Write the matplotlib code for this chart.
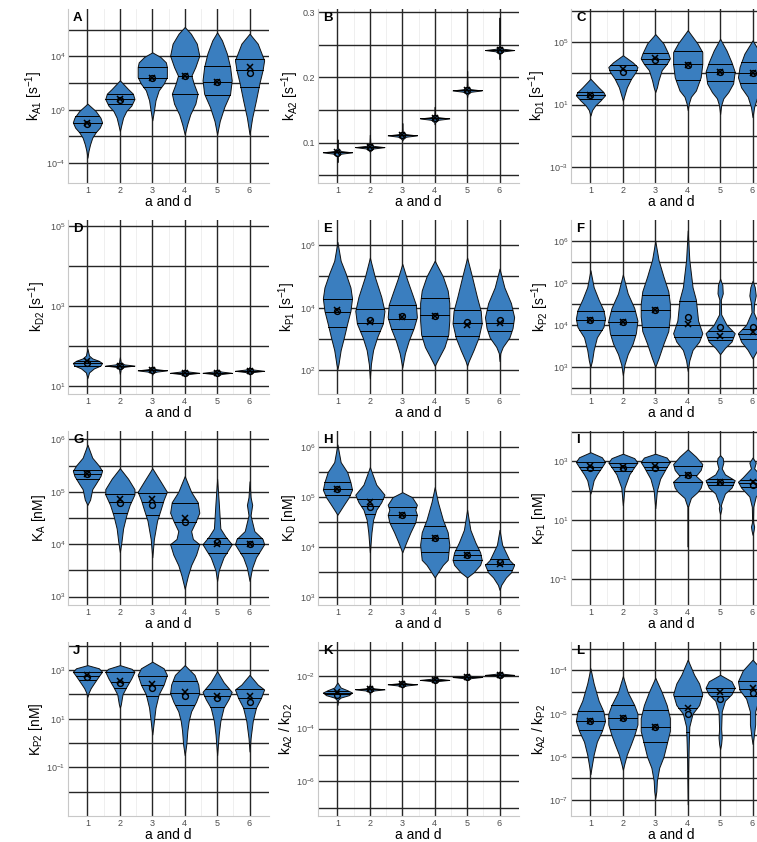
import matplotlib.pyplot as plt
import numpy as np
from matplotlib.ticker import FixedLocator, FixedFormatter

plt.rcParams["font.family"] = ["Liberation Sans", "DejaVu Sans"]
plt.rcParams["mathtext.fontset"] = "custom"
plt.rcParams["mathtext.rm"] = "Liberation Sans"
plt.rcParams["mathtext.it"] = "Liberation Sans:italic"

GROUPS = [1, 2, 3, 4, 5, 6]
VIOLIN_BLUE = "#3a7ebf"

# Violin profiles: (log10 value, relative half-width) from bottom tip to top tip.
# Quartiles are [q1, median, q3]; "mean" drawn as x, "mode" drawn as o.

# A: kA1
A_shapes = [
    [(-3.6, 0), (-3.1, .07), (-2.6, .18), (-2.1, .33), (-1.7, .56), (-1.35, .84), (-.95, 1), (-.6, .89), (-.1, .56), (.45, 0)],
    [(-1.6, 0), (-1.1, .11), (-.6, .22), (-.1, .44), (.3, .78), (.8, 1), (1.2, .89), (1.55, .56), (2.2, 0)],
    [(-.8, 0), (-.1, .11), (.7, .22), (1.45, .44), (1.95, .78), (2.45, 1), (3.2, 1), (3.55, .93), (3.95, .56), (4.3, 0)],
    [(-1.85, 0), (-1.1, .17), (-.35, .38), (.45, .73), (1.2, .88), (1.95, .62), (2.55, .46), (3.2, .73), (4.05, 1), (4.95, .83), (5.7, .42), (6.2, 0)],
    [(-1.85, 0), (-.85, .18), (.2, .49), (1.2, .89), (2.2, 1), (3.2, .89), (4.2, .67), (5.2, .33), (5.8, 0)],
    [(-1.85, 0), (-.6, .18), (.7, .44), (1.95, .67), (2.95, .89), (3.7, 1), (4.95, .56), (5.7, 0)],
]
A_quartiles = [[-1.7, -1.0, -.5], [.4, .8, 1.2], [1.7, 2.4, 3.2], [1.2, 2.5, 4.0], [1.1, 2.05, 3.3], [1.7, 3.0, 3.8]]
A_mean = [-1.0, .8, 2.4, 2.5, 2.1, 3.2]
A_mode = [-1.05, .7, 2.35, 2.5, 2.05, 2.75]

# B: kA2 (linear scale)
B_shapes = [
    [(.070, 0), (.079, .03), (.083, .25), (.085, 1), (.087, .25), (.091, .03), (.105, 0)],
    [(.086, 0), (.087, .03), (.091, .25), (.093, 1), (.095, .25), (.099, .03), (.112, 0)],
    [(.103, 0), (.105, .03), (.109, .25), (.111, 1), (.113, .25), (.117, .03), (.130, 0)],
    [(.128, 0), (.131, .03), (.135, .25), (.137, 1), (.139, .25), (.143, .03), (.155, 0)],
    [(.170, 0), (.174, .03), (.178, .25), (.180, 1), (.182, .25), (.186, .03), (.210, 0)],
    [(.228, 0), (.236, .03), (.240, .25), (.242, 1), (.244, .25), (.248, .03), (.292, 0)],
]
B_quartiles = [[.085] * 3, [.093] * 3, [.111] * 3, [.137] * 3, [.180] * 3, [.242] * 3]
B_mean = [.085, .093, .111, .137, .180, .242]
B_mode = [.084, .093, .111, .137, .180, .242]

# C: kD1
C_shapes = [
    [(.3, 0), (.65, .11), (.95, .33), (1.25, .67), (1.6, 1), (1.8, .89), (2.1, .56), (2.65, 0)],
    [(1.25, 0), (1.6, .11), (2.1, .27), (2.65, .56), (3.1, .89), (3.4, 1), (3.7, .67), (4.15, 0)],
    [(1.8, 0), (2.1, .11), (2.55, .22), (3.2, .44), (3.6, .78), (3.95, 1), (4.25, .89), (4.9, .56), (5.5, 0)],
    [(.65, 0), (1.05, .07), (1.5, .22), (1.9, .56), (2.75, .89), (3.6, 1), (4.35, 1), (4.9, .67), (5.75, 0)],
    [(.4, 0), (.95, .07), (1.4, .22), (1.8, .56), (2.35, .89), (3.1, 1), (3.7, .78), (4.45, .44), (5.2, 0)],
    [(.2, 0), (.85, .11), (1.5, .33), (2.1, .78), (2.75, 1), (3.4, .89), (4.25, .56), (5.1, 0)],
]
C_quartiles = [[1.33, 1.6, 1.8], [2.65, 3.23, 3.5], [3.6, 3.9, 4.3], [2.6, 3.6, 4.4], [2.5, 3.1, 3.6], [2.4, 3.0, 3.7]]
C_mean = [1.6, 3.25, 4.0, 3.55, 3.1, 3.0]
C_mode = [1.6, 3.1, 3.85, 3.55, 3.1, 3.0]

# D: kD2
D_shapes = [
    [(1.2, 0), (1.34, .11), (1.44, .44), (1.51, .89), (1.575, 1), (1.63, .78), (1.69, .33), (1.76, .11), (1.93, 0)],
    [(1.3, 0), (1.43, .06), (1.48, .3), (1.51, 1), (1.54, .3), (1.59, .06), (1.72, 0)],
    [(1.28, 0), (1.33, .06), (1.36, .3), (1.39, 1), (1.42, .3), (1.45, .06), (1.5, 0)],
    [(1.24, 0), (1.27, .06), (1.3, .3), (1.33, 1), (1.36, .3), (1.39, .06), (1.42, 0)],
    [(1.24, 0), (1.27, .06), (1.3, .3), (1.33, 1), (1.36, .3), (1.39, .06), (1.43, 0)],
    [(1.29, 0), (1.32, .06), (1.35, .3), (1.38, 1), (1.41, .3), (1.44, .06), (1.48, 0)],
]
D_quartiles = [[1.51, 1.575, 1.63], [1.51] * 3, [1.39] * 3, [1.33] * 3, [1.33] * 3, [1.38] * 3]
D_mean = [1.63, 1.51, 1.39, 1.33, 1.33, 1.38]
D_mode = [1.575, 1.51, 1.39, 1.33, 1.33, 1.38]

# E: kP1
E_shapes = [
    [(2.05, 0), (2.2, .07), (2.65, .22), (3.05, .44), (3.5, .67), (3.9, .89), (4.3, 1), (4.65, .89), (5.1, .56), (5.5, .22), (6.1, 0)],
    [(1.75, 0), (2.2, .07), (2.65, .22), (3.05, .49), (3.5, .89), (3.9, 1), (4.35, .78), (5.0, .33), (5.6, 0)],
    [(2.1, 0), (2.55, .18), (2.95, .44), (3.35, .78), (3.7, 1), (4.1, .93), (4.45, .67), (4.9, .33), (5.4, 0)],
    [(2.15, 0), (2.45, .33), (2.75, .67), (3.15, .93), (3.6, 1), (4.15, 1), (4.55, .89), (5.0, .56), (5.5, 0)],
    [(2.15, 0), (2.3, .11), (2.65, .44), (3.05, .78), (3.5, 1), (3.9, .93), (4.35, .67), (5.0, .33), (5.6, 0)],
    [(2.3, 0), (2.55, .05), (2.75, .22), (3.05, .67), (3.35, .89), (3.7, 1), (4.15, .78), (4.65, .33), (5.25, 0)],
]
E_quartiles = [[3.4, 3.87, 4.27], [3.26, 3.5, 3.95], [3.33, 3.65, 4.1], [3.1, 3.77, 4.3], [3.1, 3.5, 3.93], [3.25, 3.52, 3.93]]
E_mean = [3.93, 3.56, 3.7, 3.75, 3.45, 3.5]
E_mode = [3.9, 3.62, 3.75, 3.75, 3.55, 3.6]

# F: kP2
F_shapes = [
    [(3.0, 0), (3.15, .11), (3.4, .22), (3.7, .44), (3.95, .89), (4.15, 1), (4.35, .89), (4.6, .56), (4.9, .22), (5.3, 0)],
    [(2.8, 0), (3.05, .11), (3.3, .33), (3.55, .67), (3.8, .89), (4.1, 1), (4.4, .78), (4.75, .33), (5.2, 0)],
    [(3.0, 0), (3.2, .22), (3.55, .56), (3.85, .89), (4.2, 1), (4.5, 1), (4.8, .89), (5.15, .56), (5.55, .22), (6.0, 0)],
    [(2.9, 0), (3.15, .11), (3.4, .33), (3.6, .78), (3.8, 1), (4.1, .71), (4.6, .56), (4.9, .33), (5.55, .11), (6.25, 0)],
    [(3.3, 0), (3.45, .33), (3.6, .78), (3.8, 1), (4.0, .44), (4.25, .07), (4.6, .05), (4.75, .18), (4.95, .15), (5.1, 0)],
    [(3.2, 0), (3.4, .33), (3.6, .78), (3.8, 1), (4.0, .44), (4.3, .07), (4.5, .1), (4.7, .22), (4.9, .15), (5.05, 0)],
]
F_quartiles = [[3.88, 4.12, 4.34], [3.75, 4.06, 4.34], [3.95, 4.35, 4.71], [3.72, 4.0, 4.58], [3.64, 3.72, 3.86], [3.65, 3.78, 3.9]]
F_mean = [4.12, 4.06, 4.35, 4.02, 3.74, 3.82]
F_mode = [4.12, 4.06, 4.35, 4.18, 3.94, 3.94]

# G: KA
G_shapes = [
    [(4.75, 0), (4.85, .18), (5.05, .33), (5.15, .56), (5.3, .89), (5.4, 1), (5.5, .78), (5.65, .33), (5.9, 0)],
    [(3.85, 0), (4.05, .11), (4.3, .22), (4.55, .44), (4.75, .67), (4.95, 1), (5.05, 1), (5.25, .56), (5.45, 0)],
    [(3.75, 0), (4.1, .11), (4.45, .33), (4.65, .56), (4.85, .78), (5.0, 1), (5.2, .56), (5.45, 0)],
    [(3.15, 0), (3.4, .22), (3.6, .44), (3.8, .78), (4.0, 1), (4.1, .56), (4.25, .44), (4.45, .78), (4.6, 1), (4.8, .89), (5.0, .44), (5.3, 0)],
    [(3.3, 0), (3.5, .11), (3.75, .44), (3.9, .78), (4.0, 1), (4.15, .56), (4.3, .22), (4.8, .11), (5.25, 0)],
    [(3.3, 0), (3.55, .18), (3.75, .44), (3.9, .78), (4.0, 1), (4.1, .89), (4.25, .33), (4.55, .07), (4.75, .18), (4.9, .07), (5.2, 0)],
]
G_quartiles = [[5.25, 5.33, 5.41], [4.6, 4.8, 4.95], [4.56, 4.8, 4.97], [4.0, 4.43, 4.78], [3.84, 4.0, 4.11], [3.84, 4.0, 4.11]]
G_mean = [5.33, 4.87, 4.87, 4.5, 4.0, 4.0]
G_mode = [5.33, 4.78, 4.75, 4.42, 4.05, 4.0]

# H: KD
H_shapes = [
    [(4.65, 0), (4.7, .11), (4.85, .44), (5.0, .78), (5.15, 1), (5.3, .89), (5.5, .67), (5.7, .22), (6.05, 0)],
    [(3.9, 0), (4.3, .11), (4.55, .22), (4.75, .44), (4.9, .78), (5.05, 1), (5.25, .44), (5.6, 0)],
    [(3.9, 0), (4.1, .27), (4.3, .56), (4.5, .89), (4.65, 1), (4.75, .89), (4.85, 1), (5.0, .67), (5.1, 0)],
    [(3.4, 0), (3.5, .22), (3.65, .56), (3.75, .89), (4.05, 1), (4.3, .89), (4.55, .56), (4.9, .22), (5.2, 0)],
    [(3.4, 0), (3.5, .44), (3.65, .89), (3.75, 1), (3.9, .89), (4.1, .56), (4.35, .22), (4.75, 0)],
    [(3.15, 0), (3.25, .11), (3.4, .44), (3.5, .78), (3.65, 1), (3.75, .67), (4.05, .18), (4.35, 0)],
]
H_quartiles = [[5.05, 5.17, 5.3], [4.67, 4.82, 4.97], [4.49, 4.64, 4.8], [3.9, 4.18, 4.43], [3.74, 3.85, 3.94], [3.54, 3.66, 3.77]]
H_mean = [5.17, 4.9, 4.64, 4.18, 3.85, 3.66]
H_mode = [5.17, 4.8, 4.64, 4.18, 3.85, 3.7]

# I: KP1
I_shapes = [
    [(1.9, 0), (2.1, .11), (2.35, .22), (2.55, .44), (2.8, .78), (2.97, 1), (3.13, .78), (3.3, 0)],
    [(1.5, 0), (2.1, .11), (2.55, .44), (2.8, .78), (2.95, 1), (3.1, .78), (3.25, 0)],
    [(1.4, 0), (2.0, .11), (2.4, .33), (2.8, .78), (2.97, 1), (3.12, .78), (3.25, 0)],
    [(.1, 0), (1.45, .02), (1.75, .22), (1.95, .67), (2.1, .89), (2.3, 1), (2.5, .56), (2.7, .89), (2.9, 1), (3.15, .56), (3.4, 0)],
    [(1.2, 0), (1.3, .05), (1.4, .09), (1.5, .05), (1.6, .11), (1.9, .33), (2.1, .78), (2.35, 1), (2.55, .33), (2.75, .11), (2.95, .22), (3.1, .18), (3.2, 0)],
    [(.5, 0), (.65, .07), (.78, .11), (.9, .05), (1.0, .03), (1.45, .05), (1.8, .22), (2.1, .78), (2.3, 1), (2.45, .67), (2.75, .11), (2.95, .22), (3.12, 0)],
]
I_quartiles = [[2.7, 2.8, 2.97], [2.67, 2.8, 2.93], [2.7, 2.8, 2.97], [2.3, 2.52, 2.85], [2.18, 2.29, 2.4], [2.12, 2.24, 2.35]]
I_mean = [2.82, 2.8, 2.82, 2.52, 2.29, 2.29]
I_mode = [2.78, 2.75, 2.77, 2.52, 2.29, 2.18]

# J: KP2
J_shapes = [
    [(1.9, 0), (2.05, .07), (2.25, .22), (2.45, .44), (2.75, .78), (2.93, 1), (3.07, .78), (3.2, 0)],
    [(1.45, 0), (1.6, .07), (2.0, .18), (2.3, .44), (2.65, .78), (2.93, 1), (3.05, .8), (3.2, 0)],
    [(.35, 0), (.9, .11), (1.45, .22), (2.0, .44), (2.4, .78), (2.8, 1), (3.07, .78), (3.34, 0)],
    [(-.5, 0), (-.05, .11), (.5, .18), (.9, .27), (1.3, .44), (1.7, .78), (2.05, 1), (2.4, .93), (2.8, .67), (3.2, 0)],
    [(-.5, 0), (.35, .11), (.9, .22), (1.45, .44), (1.8, .78), (2.1, 1), (2.5, .44), (2.95, 0)],
    [(-.35, 0), (.2, .07), (.9, .22), (1.45, .44), (1.85, .78), (2.2, 1), (2.4, .56), (2.8, 0)],
]
J_quartiles = [[2.6, 2.77, 2.93], [2.27, 2.5, 2.93], [1.93, 2.37, 2.76], [1.56, 2.05, 2.56], [1.49, 1.95, 2.23], [1.44, 1.84, 2.23]]
J_mean = [2.8, 2.55, 2.43, 2.08, 1.95, 1.95]
J_mode = [2.7, 2.45, 2.27, 1.95, 1.83, 1.7]

# K: kA2 / kD2
K_shapes = [
    [(-3.1, 0), (-2.9, .05), (-2.82, .22), (-2.73, .78), (-2.63, 1), (-2.54, .67), (-2.44, .22), (-2.25, 0)],
    [(-2.7, 0), (-2.6, .05), (-2.55, .3), (-2.51, 1), (-2.47, .3), (-2.42, .05), (-2.3, 0)],
    [(-2.45, 0), (-2.4, .05), (-2.36, .3), (-2.32, 1), (-2.28, .3), (-2.24, .05), (-2.15, 0)],
    [(-2.28, 0), (-2.23, .05), (-2.19, .3), (-2.15, 1), (-2.11, .3), (-2.07, .05), (-2.0, 0)],
    [(-2.15, 0), (-2.12, .05), (-2.08, .3), (-2.04, 1), (-2.0, .3), (-1.96, .05), (-1.9, 0)],
    [(-2.07, 0), (-2.04, .05), (-2.0, .3), (-1.96, 1), (-1.92, .3), (-1.88, .05), (-1.82, 0)],
]
K_quartiles = [[-2.7, -2.63, -2.56], [-2.51] * 3, [-2.32] * 3, [-2.15] * 3, [-2.04] * 3, [-1.96] * 3]
K_mean = [-2.6, -2.51, -2.32, -2.15, -2.04, -1.96]
K_mode = [-2.73, -2.51, -2.32, -2.15, -2.04, -1.96]

# L: kA2 / kP2
L_shapes = [
    [(-6.4, 0), (-6.25, .07), (-5.95, .22), (-5.65, .44), (-5.4, .78), (-5.17, 1), (-4.95, .89), (-4.7, .56), (-4.3, .22), (-3.95, 0)],
    [(-6.3, 0), (-6.15, .11), (-5.95, .27), (-5.7, .56), (-5.5, .78), (-5.25, 1), (-5.0, 1), (-4.8, .78), (-4.5, .33), (-4.13, 0)],
    [(-6.95, 0), (-6.8, .07), (-6.55, .11), (-6.25, .27), (-6.0, .56), (-5.7, .78), (-5.4, 1), (-5.1, 1), (-4.8, .78), (-4.5, .44), (-4.17, 0)],
    [(-7.1, 0), (-6.1, .04), (-5.7, .07), (-5.3, .11), (-5.0, .33), (-4.8, .78), (-4.55, 1), (-4.3, .78), (-4.1, .44), (-3.75, 0)],
    [(-5.82, 0), (-5.7, .07), (-5.55, .11), (-5.35, .07), (-4.95, .11), (-4.7, .33), (-4.55, .78), (-4.4, 1), (-4.25, .78), (-4.1, 0)],
    [(-5.7, 0), (-5.55, .07), (-5.25, .18), (-4.95, .18), (-4.65, .44), (-4.45, .89), (-4.25, 1), (-4.0, .67), (-3.75, 0)],
]
L_quartiles = [[-5.38, -5.18, -4.94], [-5.36, -5.1, -4.8], [-5.65, -5.3, -4.92], [-5.42, -4.86, -4.58], [-4.6, -4.5, -4.4], [-4.6, -4.43, -4.25]]
L_mean = [-5.17, -5.1, -5.3, -4.86, -4.5, -4.4]
L_mode = [-5.17, -5.1, -5.3, -5.0, -4.65, -4.53]

PANELS = [
    dict(tag="A", ylabel=r"k$_{\mathrm{A1}}$ [s$^{-1}$]", shapes=A_shapes, quart=A_quartiles, mean=A_mean, mode=A_mode,
         log=True, ylim=(-5.5, 7.55), major=[-4, 0, 4], minor=[-2, 2, 6]),
    dict(tag="B", ylabel=r"k$_{\mathrm{A2}}$ [s$^{-1}$]", shapes=B_shapes, quart=B_quartiles, mean=B_mean, mode=B_mode,
         log=False, ylim=(0.038, 0.305), major=[0.1, 0.2, 0.3], minor=[0.05, 0.15, 0.25]),
    dict(tag="C", ylabel=r"k$_{\mathrm{D1}}$ [s$^{-1}$]", shapes=C_shapes, quart=C_quartiles, mean=C_mean, mode=C_mode,
         log=True, ylim=(-4.0, 7.1), major=[-3, 1, 5], minor=[-1, 3, 7]),
    dict(tag="D", ylabel=r"k$_{\mathrm{D2}}$ [s$^{-1}$]", shapes=D_shapes, quart=D_quartiles, mean=D_mean, mode=D_mode,
         log=True, ylim=(0.8, 5.15), major=[1, 3, 5], minor=[2, 4]),
    dict(tag="E", ylabel=r"k$_{\mathrm{P1}}$ [s$^{-1}$]", shapes=E_shapes, quart=E_quartiles, mean=E_mean, mode=E_mode,
         log=True, ylim=(1.25, 6.8), major=[2, 4, 6], minor=[3, 5]),
    dict(tag="F", ylabel=r"k$_{\mathrm{P2}}$ [s$^{-1}$]", shapes=F_shapes, quart=F_quartiles, mean=F_mean, mode=F_mode,
         log=True, ylim=(2.35, 6.5), major=[3, 4, 5, 6], minor=[2.5, 3.5, 4.5, 5.5]),
    dict(tag="G", ylabel=r"K$_{\mathrm{A}}$ [nM]", shapes=G_shapes, quart=G_quartiles, mean=G_mean, mode=G_mode,
         log=True, ylim=(2.84, 6.16), major=[3, 4, 5, 6], minor=[3.5, 4.5, 5.5]),
    dict(tag="H", ylabel=r"K$_{\mathrm{D}}$ [nM]", shapes=H_shapes, quart=H_quartiles, mean=H_mean, mode=H_mode,
         log=True, ylim=(2.85, 6.32), major=[3, 4, 5, 6], minor=[3.5, 4.5, 5.5]),
    dict(tag="I", ylabel=r"K$_{\mathrm{P1}}$ [nM]", shapes=I_shapes, quart=I_quartiles, mean=I_mean, mode=I_mode,
         log=True, ylim=(-1.88, 4.02), major=[-1, 1, 3], minor=[0, 2, 4]),
    dict(tag="J", ylabel=r"K$_{\mathrm{P2}}$ [nM]", shapes=J_shapes, quart=J_quartiles, mean=J_mean, mode=J_mode,
         log=True, ylim=(-3.0, 4.15), major=[-1, 1, 3], minor=[-2, 0, 2, 4]),
    dict(tag="K", ylabel=r"k$_{\mathrm{A2}}$ / k$_{\mathrm{D2}}$", shapes=K_shapes, quart=K_quartiles, mean=K_mean, mode=K_mode,
         log=True, ylim=(-7.32, -0.71), major=[-6, -4, -2], minor=[-7, -5, -3, -1]),
    dict(tag="L", ylabel=r"k$_{\mathrm{A2}}$ / k$_{\mathrm{P2}}$", shapes=L_shapes, quart=L_quartiles, mean=L_mean, mode=L_mode,
         log=True, ylim=(-7.37, -3.34), major=[-7, -6, -5, -4], minor=[-6.5, -5.5, -4.5, -3.5]),
]

FIG_W, FIG_H = 757, 842
COL_LEFT = [68, 318, 571]
ROW_TOP = [9, 220, 431, 642]
PANEL_W, PANEL_H = 201, 174
HALF = 0.45
GRID_DARK = "#262626"


def to_data(v, log):
    return 10.0 ** np.asarray(v, dtype=float) if log else np.asarray(v, dtype=float)


def draw_panel(ax, p):
    log = p["log"]
    if log:
        ax.set_yscale("log")
    ax.set_xlim(0.4, 6.6)
    ax.set_ylim(*to_data(p["ylim"], log))

    stats = []
    for shape, q in zip(p["shapes"], p["quart"]):
        ys = np.array([s[0] for s in shape])
        ws = np.array([s[1] for s in shape])
        yd = to_data(ys, log)
        stats.append(dict(coords=yd, vals=ws, mean=yd.mean(), median=to_data(q[1], log),
                          min=yd.min(), max=yd.max()))
    parts = ax.violin(stats, positions=GROUPS, widths=0.9, showmeans=False,
                      showextrema=False, showmedians=False)
    for body in parts["bodies"]:
        body.set_facecolor(VIOLIN_BLUE)
        body.set_edgecolor("#111111")
        body.set_linewidth(0.7)
        body.set_alpha(1.0)
        body.set_zorder(3)

    # quartile lines clipped to the violin outline
    for x, shape, q in zip(GROUPS, p["shapes"], p["quart"]):
        ys = [s[0] for s in shape]
        ws = [s[1] for s in shape]
        for qv in q:
            hw = HALF * np.interp(qv, ys, ws)
            ax.plot([x - hw, x + hw], [to_data(qv, log)] * 2, color="black", lw=0.7, zorder=4)

    ax.plot(GROUPS, to_data(p["mean"], log), ls="none", marker="x", ms=4.5, mew=1.1,
            color="black", zorder=5)
    ax.plot(GROUPS, to_data(p["mode"], log), ls="none", marker="o", ms=4.2, mew=1.0,
            mfc="none", mec="black", zorder=5)

    # axes, ticks and grid
    ax.set_xticks(GROUPS)
    ax.set_xticks([1.5, 2.5, 3.5, 4.5, 5.5], minor=True)
    major = to_data(p["major"], log)
    ax.yaxis.set_major_locator(FixedLocator(major))
    ax.yaxis.set_minor_locator(FixedLocator(to_data(p["minor"], log)))
    if log:
        labels = [r"$10^{%d}$" % v for v in p["major"]]
    else:
        labels = ["%g" % v for v in p["major"]]
    ax.yaxis.set_major_formatter(FixedFormatter(labels))
    ax.yaxis.set_minor_formatter(FixedFormatter([]))
    ax.tick_params(axis="both", which="both", length=0, labelsize=6.5, labelcolor="#4d4d4d", pad=2)
    ax.set_axisbelow(True)
    ax.grid(True, which="major", color=GRID_DARK, lw=1.0)
    ax.grid(True, which="minor", axis="y", color=GRID_DARK, lw=1.0)
    ax.grid(True, which="minor", axis="x", color="#ededed", lw=0.6)
    for side in ("top", "right"):
        ax.spines[side].set_visible(False)
    for side in ("left", "bottom"):
        ax.spines[side].set_color("#c8c8c8")
        ax.spines[side].set_linewidth(0.8)
    ax.set_xlabel("a and d", fontsize=10, labelpad=0)
    ax.set_ylabel(p["ylabel"], fontsize=10, labelpad=1)
    ax.text(0.025, 0.985, p["tag"], transform=ax.transAxes, ha="left", va="top",
            fontsize=9.5, fontweight="bold", zorder=6)


fig = plt.figure(figsize=(FIG_W / 100, FIG_H / 100), dpi=100)
for i, p in enumerate(PANELS):
    r, c = divmod(i, 3)
    rect = [COL_LEFT[c] / FIG_W, 1 - (ROW_TOP[r] + PANEL_H) / FIG_H, PANEL_W / FIG_W, PANEL_H / FIG_H]
    ax = fig.add_axes(rect)
    draw_panel(ax, p)

fig.savefig("out.png", dpi=100)
